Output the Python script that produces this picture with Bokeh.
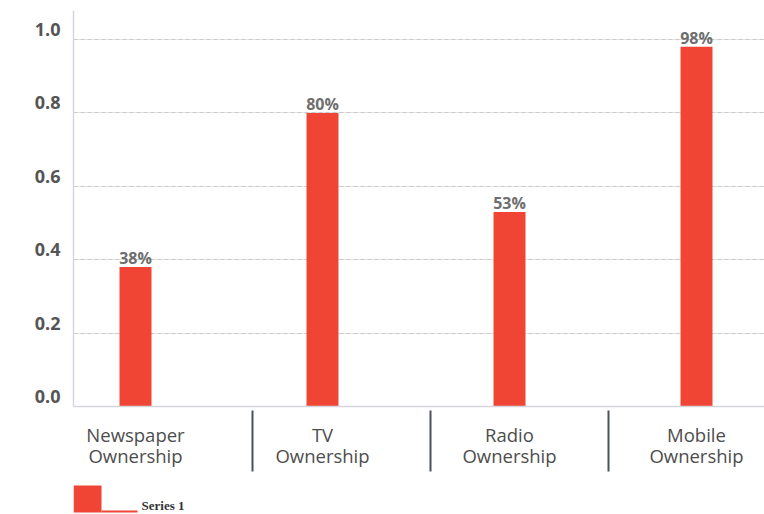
from bokeh.plotting import figure
from bokeh.models import Range1d, LinearAxis, FixedTicker, PrintfTickFormatter, Grid
from bokeh.layouts import column
from bokeh.core.properties import value
from bokeh.embed import file_html
from bokeh.resources import INLINE

# ---- data ----
categories = ["Newspaper Ownership", "TV Ownership", "Radio Ownership", "Mobile Ownership"]
values = [0.38, 0.80, 0.53, 0.98]
value_labels = ["38%", "80%", "53%", "98%"]
y_ticks = [0.0, 0.2, 0.4, 0.6, 0.8, 1.0]
series_name = "Series 1"

RED = "#f04434"
idx = list(range(len(categories)))
separators = [0.626, 1.578, 2.53]

p = figure(width=764, height=480,
           x_range=Range1d(-0.3316, 3.3636), y_range=Range1d(0, 1.079),
           output_backend="svg", toolbar_location=None,
           y_axis_location=None,
           min_border_left=73, min_border_right=0, min_border_top=10, min_border_bottom=74)
p.outline_line_color = None
p.background_fill_color = "white"
for g in p.xgrid:
    g.visible = False

# grid
grid = Grid(dimension=1, ticker=FixedTicker(ticks=y_ticks[1:]),
            grid_line_color="#c9c9c9", grid_line_dash="4 3", grid_line_width=1)
p.add_layout(grid)

# y axis (labels sit slightly above gridlines)
p.extra_y_ranges = {"lab": Range1d(-0.027, 1.079 - 0.027)}
yax = LinearAxis(y_range_name="lab", ticker=FixedTicker(ticks=y_ticks),
                 formatter=PrintfTickFormatter(format="%.1f"),
                 major_tick_line_color=None, minor_tick_line_color=None,
                 major_tick_in=0, major_tick_out=0, minor_tick_in=0, minor_tick_out=0,
                 axis_line_color="#d5d5df", axis_line_width=1.5,
                 major_label_text_font="Open Sans", major_label_text_font_style="bold",
                 major_label_text_font_size="18px", major_label_text_color="#555555",
                 major_label_standoff=13)
p.add_layout(yax, "left")

# x axis: labels at bar centres, separators as long minor ticks
xa = p.xaxis[0]
xa.ticker = FixedTicker(ticks=idx, minor_ticks=separators)
xa.major_label_overrides = {i: c.replace(" ", "\n") for i, c in zip(idx, categories)}
xa.major_tick_line_color = None
xa.major_tick_in = 0
xa.major_tick_out = 0
xa.minor_tick_in = -4
xa.minor_tick_out = 65
xa.minor_tick_line_color = "#4a525a"
xa.minor_tick_line_width = 2
xa.axis_line_color = "#d5d5df"
xa.axis_line_width = 1.5
xa.major_label_text_font = "Open Sans"
xa.major_label_text_font_size = "18.5px"
xa.major_label_text_line_height = 0.875
xa.major_label_text_color = "#4d4d4d"
xa.major_label_standoff = -50

p.vbar(x=idx, top=values, width=0.171, fill_color=RED, line_color=None)
p.text(x=idx, y=values, text=value_labels, text_align="center", text_baseline="alphabetic",
       y_offset=-9, text_font=value("Open Sans"), text_font_style="bold",
       text_font_size="16px", text_color="#6e6e6e")

# legend strip (frame aligned with the main frame)
leg = figure(width=764, height=34, x_range=Range1d(73, 764), y_range=Range1d(0, 34),
             output_backend="svg", toolbar_location=None, min_border=0,
             min_border_left=73, min_border_right=0,
             x_axis_location=None, y_axis_location=None)
leg.outline_line_color = None
for g in leg.grid:
    g.visible = False
leg.quad(left=[73], right=[101], bottom=[2], top=[29], fill_color=RED, line_color=None)
leg.quad(left=[101], right=[137], bottom=[2], top=[4], fill_color=RED, line_color=None)
leg.text(x=[141], y=[9], text=[series_name], text_baseline="alphabetic",
         text_font=value("Liberation Serif"), text_font_style="bold",
         text_font_size="13px", text_color="#333333")

layout = column(p, leg, spacing=0)
open("out.html", "w").write(file_html(layout, INLINE))
